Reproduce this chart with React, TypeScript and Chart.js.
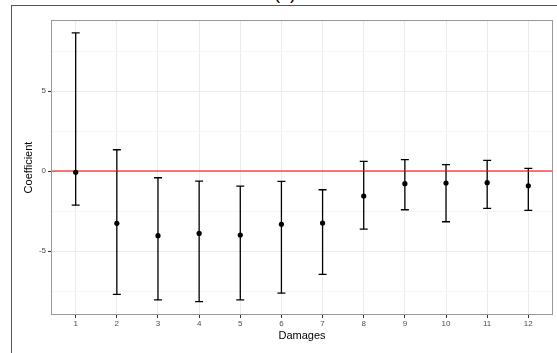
import React, { useEffect, useRef } from "react";
import { Chart, registerables } from "chart.js";

Chart.register(...registerables);

const categories = [1, 2, 3, 4, 5, 6, 7, 8, 9, 10, 11, 12];
const estimates = [-0.08, -3.27, -4.04, -3.9, -4.0, -3.33, -3.25, -1.56, -0.79, -0.75, -0.73, -0.92];
const lowers = [-2.13, -7.71, -8.06, -8.17, -8.06, -7.63, -6.46, -3.63, -2.42, -3.17, -2.33, -2.46];
const uppers = [8.63, 1.33, -0.42, -0.63, -0.94, -0.65, -1.17, 0.6, 0.71, 0.4, 0.67, 0.17];
const yGridValues = [-7.5, -5, -2.5, 0, 2.5, 5, 7.5];
const yLabelValues = [-5, 0, 5];
const refLine = 0;

const FONT = "'Liberation Sans', Arial, Helvetica, sans-serif";

const errorBarPlugin = {
  id: "errorBars",
  beforeDatasetsDraw(chart: any) {
    const { ctx, scales, chartArea } = chart;
    const xs = scales.x;
    const ys = scales.y;
    ctx.save();
    ctx.beginPath();
    ctx.rect(chartArea.left, chartArea.top, chartArea.right - chartArea.left, chartArea.bottom - chartArea.top);
    ctx.clip();
    ctx.strokeStyle = "#000";
    ctx.lineWidth = 1.3;
    categories.forEach((c, i) => {
      const x = xs.getPixelForValue(c);
      const y1 = ys.getPixelForValue(lowers[i]);
      const y2 = ys.getPixelForValue(uppers[i]);
      ctx.beginPath();
      ctx.moveTo(x, y1);
      ctx.lineTo(x, y2);
      ctx.moveTo(x - 4, y1);
      ctx.lineTo(x + 4, y1);
      ctx.moveTo(x - 4, y2);
      ctx.lineTo(x + 4, y2);
      ctx.stroke();
    });
    const yr = ys.getPixelForValue(refLine);
    ctx.strokeStyle = "rgba(255,0,0,0.7)";
    ctx.lineWidth = 1.5;
    ctx.beginPath();
    ctx.moveTo(chartArea.left, yr);
    ctx.lineTo(chartArea.right, yr);
    ctx.stroke();
    ctx.restore();
  },
  afterDatasetsDraw(chart: any) {
    const { ctx, chartArea } = chart;
    ctx.save();
    ctx.strokeStyle = "#999";
    ctx.lineWidth = 1;
    ctx.strokeRect(chartArea.left + 0.5, chartArea.top + 0.5, chartArea.right - chartArea.left - 1, chartArea.bottom - chartArea.top - 1);
    ctx.restore();
  },
};

export default function App() {
  const ref = useRef<HTMLCanvasElement | null>(null);
  useEffect(() => {
    if (!ref.current) return;
    const chart = new Chart(ref.current, {
      type: "scatter",
      data: {
        datasets: [
          {
            data: categories.map((c, i) => ({ x: c, y: estimates[i] })),
            backgroundColor: "#000",
            borderColor: "#000",
            pointRadius: 2.6,
            pointHoverRadius: 2.6,
            borderWidth: 0,
          },
        ],
      },
      options: {
        animation: false,
        responsive: false,
        events: [],
        layout: { padding: { left: 22, top: 20, right: 4, bottom: 10 } },
        plugins: { legend: { display: false }, tooltip: { enabled: false }, title: { display: false } },
        scales: {
          x: {
            type: "linear",
            min: 0.4,
            max: 12.6,
            afterBuildTicks: (s: any) => {
              s.ticks = categories.map((v) => ({ value: v }));
            },
            afterFit: (s: any) => {
              s.height = 28;
            },
            grid: { color: "#ebebeb", lineWidth: 1, tickLength: 3, tickColor: "#333", drawOnChartArea: true },
            border: { display: false },
            ticks: {
              color: "#4d4d4d",
              font: { family: FONT, size: 8 },
              padding: 1,
              maxRotation: 0,
              autoSkip: false,
              callback: (v: any) => String(v),
            },
            title: { display: true, text: "Damages", color: "#000", font: { family: FONT, size: 11 }, padding: { top: 0, bottom: 0 } },
          },
          y: {
            type: "linear",
            min: -9.0,
            max: 9.44,
            afterBuildTicks: (s: any) => {
              s.ticks = yGridValues.map((v) => ({ value: v }));
            },
            afterFit: (s: any) => {
              s.width = 29;
            },
            grid: {
              color: (c: any) => (yLabelValues.includes(c.tick?.value) ? "#ebebeb" : "#f5f5f5"),
              lineWidth: 1,
              tickLength: 3,
              tickColor: (c: any) => (yLabelValues.includes(c.tick?.value) ? "#333" : "rgba(0,0,0,0)"),
            },
            border: { display: false },
            ticks: {
              color: "#4d4d4d",
              font: { family: FONT, size: 8 },
              padding: 2,
              autoSkip: false,
              callback: (v: any) => (yLabelValues.includes(v) ? String(v) : ""),
            },
            title: { display: true, text: "Coefficient", color: "#000", font: { family: FONT, size: 11 }, padding: { top: 0, bottom: 0 } },
          },
        },
      },
      plugins: [errorBarPlugin],
    } as any);
    return () => chart.destroy();
  }, []);

  return (
    <div style={{ position: "absolute", left: 0, top: 0, width: 557, height: 353, overflow: "hidden", background: "#fff" }}>
      <div
        style={{
          position: "absolute",
          left: 11,
          top: 5,
          width: 600,
          height: 400,
          borderLeft: "1.5px solid #555",
          borderTop: "1.5px solid #555",
          boxSizing: "border-box",
        }}
      />
      <span
        style={{
          position: "absolute",
          left: 274,
          top: -16,
          fontFamily: FONT,
          fontSize: 18,
          lineHeight: "18px",
          color: "#000",
          whiteSpace: "nowrap",
        }}
      >
        (a)
      </span>
      <canvas ref={ref} width={557} height={353} style={{ position: "absolute", left: 0, top: 0 }} />
    </div>
  );
}
